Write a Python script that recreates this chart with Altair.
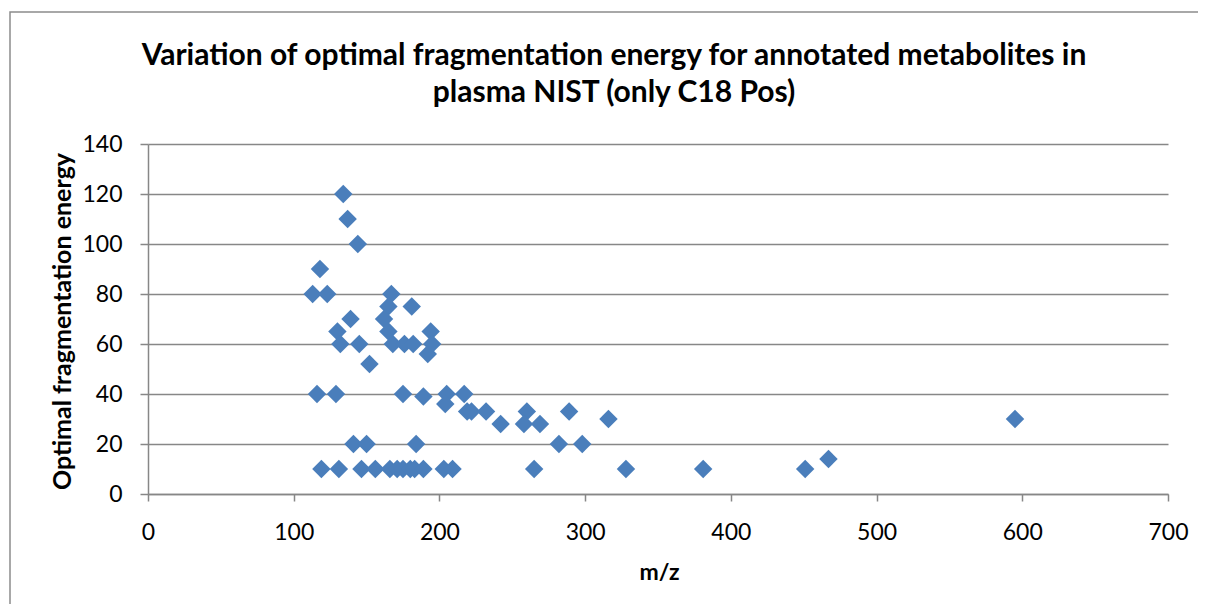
import altair as alt
import pandas as pd

# m/z values and optimal fragmentation energies
mz = [134, 137, 144, 118, 113, 123, 167, 165, 181, 139, 162, 130, 165, 194,
      132, 145, 168, 176, 182, 195, 192, 152,
      116, 129, 175, 205, 217, 189, 204,
      219, 222, 232, 260, 289, 242, 258, 269, 316, 595,
      141, 150, 184, 282, 298, 467,
      119, 131, 146.5, 156, 166, 171, 175, 180, 183, 189, 203, 209, 265, 328, 381, 451]
energy = [120, 110, 100, 90, 80, 80, 80, 75, 75, 70, 70, 65, 65, 65,
          60, 60, 60, 60, 60, 60, 56, 52,
          40, 40, 40, 40, 40, 39, 36,
          33, 33, 33, 33, 33, 28, 28, 28, 30, 30,
          20, 20, 20, 20, 20, 14,
          10, 10, 10, 10, 10, 10, 10, 10, 10, 10, 10, 10, 10, 10, 10, 10]

x_ticks = [0, 100, 200, 300, 400, 500, 600, 700]
y_ticks = [0, 20, 40, 60, 80, 100, 120, 140]

title_lines = ["Variation of optimal fragmentation energy for annotated metabolites in",
               "plasma NIST (only C18 Pos)"]

df = pd.DataFrame({"mz": mz, "energy": energy})

FONT = "Lato"
GRID = "#878787"

points = alt.Chart(df).mark_point(
    shape="diamond", filled=True, size=340, color="#4A7EBB", opacity=1
).encode(
    x=alt.X("mz:Q", scale=alt.Scale(domain=[0, 700], nice=False),
            axis=alt.Axis(values=x_ticks, title="m/z", grid=False, labelFlush=False,
                          labelFont=FONT, labelFontSize=23, labelColor="black",
                          labelPadding=20, tickSize=7, tickColor=GRID, tickWidth=1.5,
                          domainColor=GRID, domainWidth=1.5,
                          titleFont=FONT, titleFontSize=23, titleFontWeight="bold",
                          titleColor="black", titleX=511, titleY=78,
                          titleBaseline="middle", titleAlign="center")),
    y=alt.Y("energy:Q", scale=alt.Scale(domain=[0, 140], nice=False),
            axis=alt.Axis(values=y_ticks, title="Optimal fragmentation energy",
                          grid=True, gridColor=GRID, gridWidth=1.5, labelFlush=False,
                          labelFont=FONT, labelFontSize=23, labelColor="black",
                          labelPadding=18, tickSize=8, tickColor=GRID, tickWidth=1.5,
                          domainColor=GRID, domainWidth=1.5,
                          titleFont=FONT, titleFontSize=25, titleFontWeight="bold",
                          titleColor="black", titleAngle=-90, titleX=-86, titleY=177,
                          titleBaseline="middle", titleAlign="center")),
)

one = pd.DataFrame({"k": [0]})

border = alt.Chart(one).mark_rect(
    fill=None, stroke="#8c8c8c", strokeWidth=1.5
).encode(
    x=alt.value(-138), x2=alt.value(1150), y=alt.value(-132), y2=alt.value(700)
)

title1 = alt.Chart(one).mark_text(
    text=title_lines[0], font=FONT, fontSize=30, fontWeight="bold", color="black",
    align="center", baseline="alphabetic"
).encode(x=alt.value(466), y=alt.value(-79))

title2 = alt.Chart(one).mark_text(
    text=title_lines[1], font=FONT, fontSize=30, fontWeight="bold", color="black",
    align="center", baseline="alphabetic"
).encode(x=alt.value(466), y=alt.value(-42))

chart = alt.layer(border, points, title1, title2).properties(
    width=1020, height=350,
    autosize=alt.AutoSizeParams(type="none"),
    padding={"left": 140, "top": 136, "right": 30, "bottom": 110},
).configure_view(stroke=None)

chart.save("out.html", embed_options={"renderer": "svg", "actions": False})
